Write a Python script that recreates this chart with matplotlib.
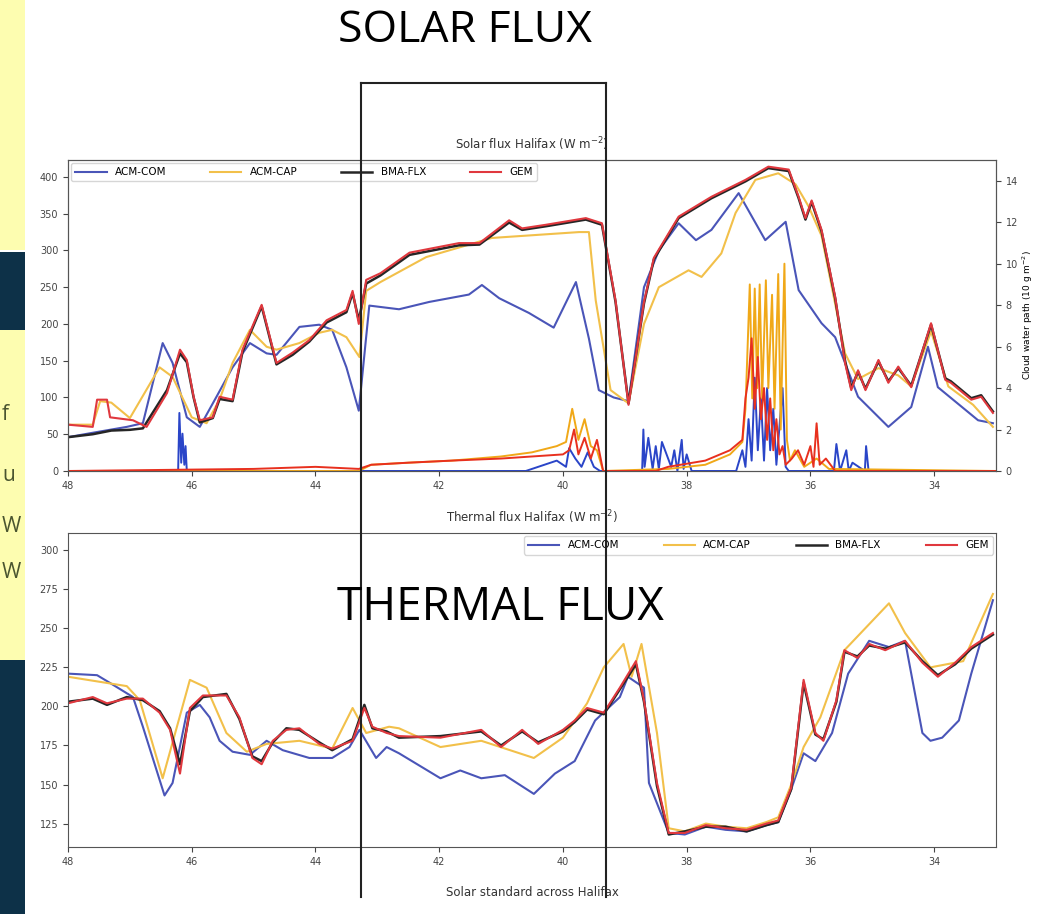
import matplotlib.pyplot as plt
from matplotlib.lines import Line2D
from matplotlib.patches import Rectangle

# ---- solar flux (W m-2), x = latitude-like coordinate, axis runs 48 -> 33
com_sx = [48.0, 47.6, 47.05, 46.79, 46.47, 46.31, 46.08, 45.87, 45.6, 45.34, 45.06, 44.79, 44.63, 44.26,
          43.94, 43.73, 43.5, 43.3, 43.13, 42.65, 42.16, 41.52, 41.31, 41.03, 40.55, 40.15, 39.79, 39.58,
          39.42, 39.18, 38.94, 38.69, 38.45, 38.13, 37.85, 37.6, 37.16, 36.73, 36.4, 36.19, 35.82, 35.6,
          35.23, 34.74, 34.37, 34.1, 33.94, 33.29, 33.05]
com_sy = [46, 52, 60, 65, 174, 147, 73, 60, 101, 141, 174, 160, 158, 196,
          199, 192, 141, 82, 225, 220, 230, 240, 253, 235, 215, 195, 257, 180,
          110, 100, 95, 250, 300, 337, 314, 328, 378, 314, 339, 246, 201, 182,
          101, 60, 87, 169, 114, 69, 65]

cap_sx = [48.0, 47.6, 47.48, 47.3, 47.0, 46.52, 46.31, 46.0, 45.76, 45.55, 45.34, 45.06, 44.79, 44.63,
          44.26, 43.94, 43.73, 43.5, 43.29, 43.18, 42.95, 42.21, 41.15, 39.74, 39.58, 39.47, 39.23, 38.94,
          38.69, 38.45, 37.97, 37.76, 37.44, 37.21, 36.89, 36.52, 36.24, 36.03, 35.82, 35.44, 35.23,
          34.9, 34.58, 34.37, 34.05, 33.77, 33.37, 33.05]
cap_sy = [63, 63, 95, 93, 72, 141, 128, 73, 65, 97, 147, 192, 169, 165,
          174, 188, 192, 182, 155, 245, 257, 291, 317, 325, 325, 232, 110, 92,
          200, 250, 273, 264, 296, 351, 396, 405, 390, 360, 320, 160, 125,
          140, 130, 115, 190, 115, 90, 60]

gem_sx = [48.0, 47.6, 47.53, 47.37, 47.32, 46.95, 46.73, 46.4, 46.19, 46.08, 45.97, 45.87, 45.66, 45.55,
          45.34, 45.18, 44.87, 44.63, 44.37, 44.1, 43.82, 43.5, 43.4, 43.3, 43.18, 42.95, 42.48, 41.68,
          41.35, 40.87, 40.66, 40.27, 39.63, 39.37, 39.15, 38.94, 38.69, 38.53, 38.13, 37.6, 37.05,
          36.68, 36.35, 36.19, 36.08, 35.98, 35.82, 35.6, 35.44, 35.34, 35.23, 35.11, 34.9, 34.74,
          34.58, 34.37, 34.05, 33.82, 33.73, 33.4, 33.24, 33.05]
gem_sy = [63, 60, 97, 97, 73, 69, 60, 106, 165, 151, 101, 69, 73, 101,
          97, 165, 226, 147, 161, 178, 205, 219, 245, 200, 260, 269, 297, 310,
          310, 341, 330, 335, 344, 337, 232, 90, 230, 290, 346, 373, 396,
          414, 410, 373, 344, 368, 328, 237, 147, 110, 137, 110, 151, 120,
          142, 114, 201, 124, 120, 97, 101, 79]

bma_sx = [48.0, 47.6, 47.3, 47.0, 46.79, 46.55, 46.4, 46.19, 46.08, 45.97, 45.87, 45.66, 45.55,
          45.34, 45.18, 44.87, 44.63, 44.37, 44.1, 43.82, 43.5, 43.4, 43.3, 43.18, 42.95, 42.48, 41.68,
          41.35, 40.87, 40.66, 40.27, 39.63, 39.37, 39.15, 38.94, 38.69, 38.53, 38.13, 37.6, 37.05,
          36.68, 36.35, 36.19, 36.08, 35.98, 35.82, 35.6, 35.44, 35.34, 35.23, 35.11, 34.9, 34.74,
          34.58, 34.37, 34.05, 33.82, 33.73, 33.4, 33.24, 33.05]
bma_sy = [46, 50, 55, 56, 58, 90, 110, 160, 148, 100, 66, 72, 98,
          95, 162, 224, 145, 158, 176, 202, 216, 242, 205, 255, 266, 294, 307,
          308, 338, 328, 333, 342, 335, 230, 92, 228, 288, 344, 371, 394,
          412, 408, 371, 342, 366, 326, 235, 150, 113, 135, 112, 149, 122,
          140, 116, 199, 126, 122, 99, 103, 81]

# ---- cloud water path (right axis)
com_wx = [48.0, 46.22, 46.2, 46.17, 46.15, 46.12, 46.1, 46.08, 40.6, 40.3, 40.1, 39.95, 39.9, 39.8,
          39.7, 39.6, 39.5, 39.4, 38.72, 38.7, 38.68, 38.62, 38.55, 38.5, 38.45, 38.4, 38.25, 38.2,
          38.15, 38.08, 38.05, 38.0, 37.92, 37.88, 37.2, 37.1, 37.05, 37.0, 36.95, 36.9, 36.85,
          36.8, 36.75, 36.7, 36.65, 36.6, 36.55, 36.45, 36.4, 36.35, 35.62, 35.58, 35.52, 35.42,
          35.38, 35.32, 35.12, 35.1, 35.06, 33.0]
com_wy = [0, 0, 2.8, 0.4, 1.8, 0.3, 1.2, 0, 0, 0.3, 0.5, 0.2, 1.1, 0.6,
          0.2, 0.9, 0.2, 0, 0, 2.0, 0.2, 1.6, 0.1, 1.2, 0.1, 1.4, 0.2, 1.0,
          0, 1.5, 0.1, 0.8, 0, 0, 0, 1.0, 0.2, 2.5, 0.5, 4.5, 1.0,
          3.5, 0.5, 4.0, 1.0, 3.0, 0.3, 4.0, 0.2, 0, 0, 1.3, 0, 1.0,
          0, 0.4, 0, 1.2, 0, 0]

cap_wx = [48.0, 43.3, 43.1, 42.5, 41.8, 41.0, 40.5, 40.1, 39.95, 39.85, 39.75, 39.65, 39.55, 39.45,
          39.35, 38.3, 37.7, 37.3, 37.1, 37.05, 36.98, 36.94, 36.9, 36.86, 36.82, 36.78, 36.72,
          36.68, 36.62, 36.58, 36.52, 36.48, 36.42, 36.38, 36.33, 36.25, 36.1, 35.9, 35.7, 33.0]
cap_wy = [0, 0, 0.3, 0.4, 0.5, 0.7, 0.9, 1.2, 1.4, 3.0, 1.5, 2.5, 1.2, 1.0,
          0, 0.1, 0.3, 0.8, 1.4, 3.0, 9.0, 3.5, 8.8, 4.0, 9.0, 3.5, 9.2,
          4.0, 8.5, 3.0, 9.5, 2.0, 10.0, 1.5, 0.5, 1.0, 0.2, 0.6, 0.1, 0]

gem_wx = [48.0, 45.0, 44.0, 43.3, 43.1, 42.5, 41.8, 41.0, 40.5, 40.0, 39.9, 39.82, 39.75, 39.65,
          39.55, 39.45, 39.35, 38.5, 38.3, 37.7, 37.3, 37.1, 37.05, 37.0, 36.95, 36.9, 36.85,
          36.8, 36.75, 36.7, 36.65, 36.6, 36.55, 36.5, 36.45, 36.4, 36.3, 36.2, 36.1, 36.0,
          35.95, 35.9, 35.85, 35.75, 35.6, 33.0]
gem_wy = [0, 0.1, 0.2, 0.1, 0.3, 0.4, 0.5, 0.6, 0.7, 0.8, 1.0, 2.0, 0.8, 1.6,
          0.6, 1.5, 0, 0, 0.2, 0.5, 1.0, 1.5, 3.5, 4.5, 6.4, 3.0, 5.5,
          2.5, 4.0, 1.5, 3.5, 1.0, 2.5, 0.8, 1.2, 0.3, 0.6, 1.0, 0.3, 1.2,
          0.2, 2.3, 0.3, 0.6, 0, 0]

# ---- thermal flux (W m-2)
com_tx = [48.0, 47.53, 47.32, 46.95, 46.79, 46.44, 46.31, 46.08, 45.87, 45.71, 45.55, 45.34, 45.06,
          44.79, 44.53, 44.1, 43.73, 43.45, 43.29, 43.02, 42.85, 42.65, 41.98, 41.66, 41.32, 40.94,
          40.47, 40.13, 39.81, 39.48, 39.08, 38.95, 38.69, 38.61, 38.29, 38.03, 37.69, 37.37, 37.03,
          36.71, 36.52, 36.31, 36.11, 35.92, 35.65, 35.39, 35.05, 34.73, 34.47, 34.19, 34.06, 33.87,
          33.6, 33.4, 33.05]
com_ty = [221, 220, 215, 206, 187, 143, 151, 196, 201, 193, 178, 171, 169,
          178, 172, 167, 167, 174, 185, 167, 174, 170, 154, 159, 154, 156,
          144, 157, 165, 191, 206, 219, 212, 151, 119, 118, 123, 121, 120,
          124, 126, 147, 170, 165, 183, 221, 242, 238, 242, 183, 178, 180,
          191, 221, 268]

cap_tx = [48.0, 47.05, 46.84, 46.47, 46.03, 45.76, 45.44, 45.11, 44.79, 44.26, 43.73, 43.4, 43.18,
          42.81, 42.65, 41.98, 41.32, 40.47, 40.0, 39.61, 39.34, 39.02, 38.89, 38.73, 38.48, 38.29,
          38.03, 37.69, 37.37, 37.03, 36.71, 36.52, 36.31, 36.11, 35.84, 35.45, 34.73, 34.47, 34.06,
          33.53, 33.05]
cap_ty = [219, 213, 204, 154, 217, 212, 183, 171, 176, 178, 173, 199, 183,
          187, 186, 174, 178, 167, 180, 202, 225, 240, 219, 240, 183, 122,
          120, 125, 123, 122, 126, 129, 150, 174, 193, 236, 266, 247, 225,
          229, 272]

gem_tx = [48.0, 47.6, 47.37, 47.05, 46.79, 46.52, 46.35, 46.19, 46.03, 45.82, 45.44, 45.23, 45.02,
          44.87, 44.69, 44.47, 44.26, 43.94, 43.73, 43.4, 43.21, 43.08, 42.85, 42.65, 41.98, 41.32,
          41.0, 40.66, 40.4, 40.0, 39.81, 39.61, 39.34, 39.08, 38.82, 38.69, 38.48, 38.29, 38.03,
          37.69, 37.37, 37.03, 36.71, 36.52, 36.31, 36.11, 35.92, 35.79, 35.58, 35.45, 35.24, 35.05,
          34.79, 34.47, 34.19, 33.94, 33.66, 33.4, 33.05]
gem_ty = [202, 206, 202, 205, 205, 196, 185, 157, 199, 207, 207, 193, 167,
          163, 178, 185, 186, 176, 173, 178, 199, 187, 183, 181, 180, 185,
          174, 185, 176, 185, 191, 199, 196, 212, 229, 204, 151, 119, 119,
          124, 122, 121, 125, 127, 148, 217, 183, 178, 204, 236, 231, 240,
          236, 242, 228, 219, 228, 238, 247]

bma_ty = [203, 205, 201, 206, 204, 197, 186, 163, 197, 206, 208, 192, 168,
          165, 177, 186, 185, 177, 172, 179, 201, 186, 184, 180, 181, 184,
          175, 184, 177, 184, 190, 198, 195, 211, 227, 203, 149, 118, 120,
          123, 123, 120, 124, 126, 147, 215, 182, 179, 203, 235, 232, 239,
          237, 241, 229, 220, 227, 237, 246]

models = ['ACM-COM', 'ACM-CAP', 'BMA-FLX', 'GEM']
c_blue = '#4a55b8'
c_orng = '#f2c04a'
c_blk = '#262626'
c_red = '#e0383e'
xticks = [48, 46, 44, 42, 40, 38, 36, 34]

# letters of the slide text box peeking in on the left
side_letters = ['f', 'u', 'W', 'W']
side_y = [414, 475, 527, 573]

plt.rcParams['font.family'] = ['DejaVu Sans']
fig = plt.figure(figsize=(10.4, 9.14), dpi=100)
fig.patch.set_facecolor('white')

# ---------------- solar panel
ax1 = fig.add_axes([0.0654, 0.4847, 0.8923, 0.3402])
ax1.plot(com_sx, com_sy, color=c_blue, lw=1.5, label=models[0])
ax1.plot(cap_sx, cap_sy, color=c_orng, lw=1.5, label=models[1])
ax1.plot(bma_sx, bma_sy, color=c_blk, lw=1.8, label=models[2])
ax1.plot(gem_sx, gem_sy, color=c_red, lw=1.5, label=models[3])
ax1.set_xlim(48, 33)
ax1.set_ylim(0, 423)
ax1.set_xticks(xticks)
ax1.set_yticks(range(0, 401, 50))
ax1.set_ylabel('Flux', fontsize=7, labelpad=10)
ax1.set_title('Solar flux Halifax (W m$^{-2}$)', fontsize=8.5, color='#333333', pad=8)
ax1.legend(loc='upper left', ncol=4, fontsize=7.5, handlelength=3, columnspacing=4.2,
           borderaxespad=0.3, frameon=True)

ax1b = ax1.twinx()
ax1b.plot(com_wx, com_wy, color='#2a45c8', lw=1.4)
ax1b.plot(cap_wx, cap_wy, color='#f0a818', lw=1.4)
ax1b.plot(gem_wx, gem_wy, color='#e8301e', lw=1.4)
ax1b.set_ylim(0, 15)
ax1b.set_yticks(range(0, 15, 2))
ax1b.set_ylabel('Cloud water path (10 g m$^{-2}$)', fontsize=6.5, labelpad=2)

# ---------------- thermal panel
ax2 = fig.add_axes([0.0654, 0.0733, 0.8923, 0.3435])
ax2.plot(com_tx, com_ty, color=c_blue, lw=1.5, label=models[0])
ax2.plot(cap_tx, cap_ty, color=c_orng, lw=1.5, label=models[1])
ax2.plot(gem_tx, bma_ty, color=c_blk, lw=1.8, label=models[2])
ax2.plot(gem_tx, gem_ty, color=c_red, lw=1.5, label=models[3])
ax2.set_xlim(48, 33)
ax2.set_ylim(110, 311)
ax2.set_xticks(xticks)
ax2.set_yticks(range(125, 301, 25))
ax2.set_title('Thermal flux Halifax (W m$^{-2}$)', fontsize=8.5, color='#333333', pad=8)
ax2.set_xlabel('Solar standard across Halifax', fontsize=8.5, color='#333333', labelpad=14)
ax2.legend(loc='upper right', ncol=4, fontsize=7.5, handlelength=3, columnspacing=4.3,
           borderaxespad=0.3, frameon=True)

for a in (ax1, ax1b, ax2):
    a.tick_params(labelsize=7, colors='#444444')
    for s in a.spines.values():
        s.set_color('#555555')

# ---------------- slide overlay
fig.text(0.447, 0.966, 'SOLAR FLUX', fontsize=32, ha='center', va='center', family='Open Sans')
fig.text(0.481, 0.335, 'THERMAL FLUX', fontsize=33, ha='center', va='center', family='Open Sans')

lx, rx = 361 / 1040, 606 / 1040
ty, by = 1 - 83 / 914, 1 - 897 / 914
for xs, ys in [([lx, lx], [by, ty]), ([lx, rx], [ty, ty]), ([rx, rx], [ty, by])]:
    fig.add_artist(Line2D(xs, ys, transform=fig.transFigure, color='#222222', lw=1.5))

# left edge of the slide
fig.add_artist(Rectangle((0, 1 - 250 / 914), 25 / 1040, 250 / 914, transform=fig.transFigure,
                         facecolor='#fdfdb0', edgecolor='none'))
fig.add_artist(Rectangle((0, 1 - 330 / 914), 25 / 1040, 78 / 914, transform=fig.transFigure,
                         facecolor='#0d3148', edgecolor='none'))
fig.add_artist(Rectangle((0, 1 - 660 / 914), 25 / 1040, 330 / 914, transform=fig.transFigure,
                         facecolor='#fdfdb0', edgecolor='none'))
fig.add_artist(Rectangle((0, 0), 25 / 1040, 254 / 914, transform=fig.transFigure,
                         facecolor='#0d3148', edgecolor='none'))
for ch, yy in zip(side_letters, side_y):
    fig.text(0.002, 1 - yy / 914, ch, fontsize=15, color='#4a5530', ha='left', va='center',
             family='Open Sans')

fig.savefig('out.png', dpi=100)
